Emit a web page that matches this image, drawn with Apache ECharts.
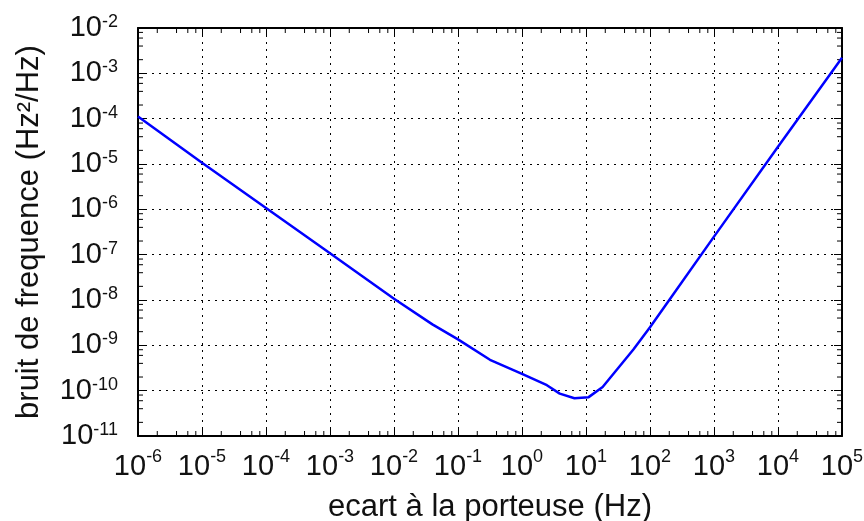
<!DOCTYPE html>
<html>
<head>
<meta charset="utf-8">
<script src="https://cdn.jsdelivr.net/npm/echarts@6/dist/echarts.min.js"></script>
<style>
  html, body { margin: 0; padding: 0; background: #fff; }
  #chart { width: 864px; height: 521px; }
</style>
</head>
<body>
<div id="chart"></div>
<script>
// frequency offset (Hz) and frequency noise (Hz^2/Hz)
const offsetHz = [1e-6, 1e-5, 1e-4, 1e-3, 1e-2, 0.0398, 0.1, 0.316, 1, 2.45, 3.89, 6.6, 11, 18.2, 55, 100, 200, 1000, 1e4, 1e5]
const noise = [1.12e-4, 1.07e-5, 1.07e-6, 1.07e-7, 1.07e-8, 2.9e-9, 1.35e-9, 4.8e-10, 2.35e-10, 1.32e-10, 8.6e-11, 6.8e-11, 7.2e-11, 1.2e-10, 8.1e-10, 2.5e-9, 1e-8, 2.5e-7, 2.4e-5, 2.2e-3]

// tick decades (exponents) and minor tick multipliers
const xExps = [-6, -5, -4, -3, -2, -1, 0, 1, 2, 3, 4, 5]
const yExps = [-11, -10, -9, -8, -7, -6, -5, -4, -3, -2]
const minorMults = [2, 4, 6, 8]

const xMin = Math.pow(10, xExps[0])
const xMax = Math.pow(10, xExps[xExps.length - 1])
const yMin = Math.pow(10, yExps[0])
const yMax = Math.pow(10, yExps[yExps.length - 1])

const xMinor = []
xExps.slice(0, -1).forEach(e => minorMults.forEach(m => xMinor.push([m * Math.pow(10, e), yMin])))
const yMinor = []
yExps.slice(0, -1).forEach(e => minorMults.forEach(m => yMinor.push([xMin, m * Math.pow(10, e)])))

const FONT = '"Liberation Sans", Arial, Helvetica, sans-serif'

const expLabel = (v) => {
  const e = Math.round(Math.log10(v))
  return '{b|10}{s|' + e + '}'
}

const gridLine = {
  show: true,
  lineStyle: { color: '#000', width: 1, type: [2, 5] },
}

const tickLen = 8
const minorLen = 5

const logAxis = (min, max, position) => ({
  type: 'log',
  logBase: 10,
  min,
  max,
  interval: 1,
  position,
  axisLine: { show: true, lineStyle: { color: '#000', width: 2 } },
  axisTick: { show: true, inside: true, length: tickLen, lineStyle: { color: '#000', width: 1 } },
  axisLabel: { show: false },
  splitLine: { show: false },
})

const chart = echarts.init(document.getElementById('chart'))

const option = {
  animation: false,
  backgroundColor: '#fff',
  grid: { left: 138, right: 22, top: 28, bottom: 85, containLabel: false, outerBoundsMode: 'none' },
  xAxis: [
    {
      ...logAxis(xMin, xMax, 'bottom'),
      name: 'ecart à la porteuse (Hz)',
      nameLocation: 'middle',
      nameGap: 56,
      nameTextStyle: { fontFamily: FONT, fontSize: 31, color: '#111' },
      splitLine: gridLine,
      axisLabel: {
        show: true,
        margin: 12,
        showMinLabel: true,
        showMaxLabel: true,
        hideOverlap: false,
        formatter: expLabel,
        rich: {
          b: { fontFamily: FONT, fontSize: 29, color: '#111' },
          s: { fontFamily: FONT, fontSize: 18, color: '#111', padding: [0, 0, 20, 0] },
        },
      },
    },
    logAxis(xMin, xMax, 'top'),
  ],
  yAxis: [
    {
      ...logAxis(yMin, yMax, 'left'),
      name: 'bruit de frequence (Hz²/Hz)',
      nameLocation: 'middle',
      nameRotate: 90,
      nameGap: 93,
      nameTextStyle: { fontFamily: FONT, fontSize: 31, color: '#111' },
      splitLine: gridLine,
      axisLabel: {
        show: true,
        margin: 20,
        showMinLabel: true,
        showMaxLabel: true,
        hideOverlap: false,
        formatter: expLabel,
        rich: {
          b: { fontFamily: FONT, fontSize: 29, color: '#111' },
          s: { fontFamily: FONT, fontSize: 18, color: '#111', padding: [0, 0, 12, 0] },
        },
      },
    },
    logAxis(yMin, yMax, 'right'),
  ],
  series: [
    {
      type: 'custom',
      xAxisIndex: 0,
      yAxisIndex: 0,
      silent: true,
      data: xMinor,
      renderItem: (params, api) => {
        const v = api.value(0)
        const b = api.coord([v, yMin])
        const t = api.coord([v, yMax])
        const style = { stroke: '#000', lineWidth: 1 }
        return {
          type: 'group',
          children: [
            { type: 'line', shape: { x1: b[0], y1: b[1], x2: b[0], y2: b[1] - minorLen }, style },
            { type: 'line', shape: { x1: t[0], y1: t[1], x2: t[0], y2: t[1] + minorLen }, style },
          ],
        }
      },
    },
    {
      type: 'custom',
      xAxisIndex: 0,
      yAxisIndex: 0,
      silent: true,
      data: yMinor,
      renderItem: (params, api) => {
        const v = api.value(1)
        const l = api.coord([xMin, v])
        const r = api.coord([xMax, v])
        const style = { stroke: '#000', lineWidth: 1 }
        return {
          type: 'group',
          children: [
            { type: 'line', shape: { x1: l[0], y1: l[1], x2: l[0] + minorLen, y2: l[1] }, style },
            { type: 'line', shape: { x1: r[0], y1: r[1], x2: r[0] - minorLen, y2: r[1] }, style },
          ],
        }
      },
    },
    {
      type: 'line',
      xAxisIndex: 0,
      yAxisIndex: 0,
      data: offsetHz.map((x, i) => [x, noise[i]]),
      showSymbol: false,
      smooth: false,
      lineStyle: { color: '#0000ff', width: 2.5 },
    },
  ],
}

chart.setOption(option)
</script>
</body>
</html>
